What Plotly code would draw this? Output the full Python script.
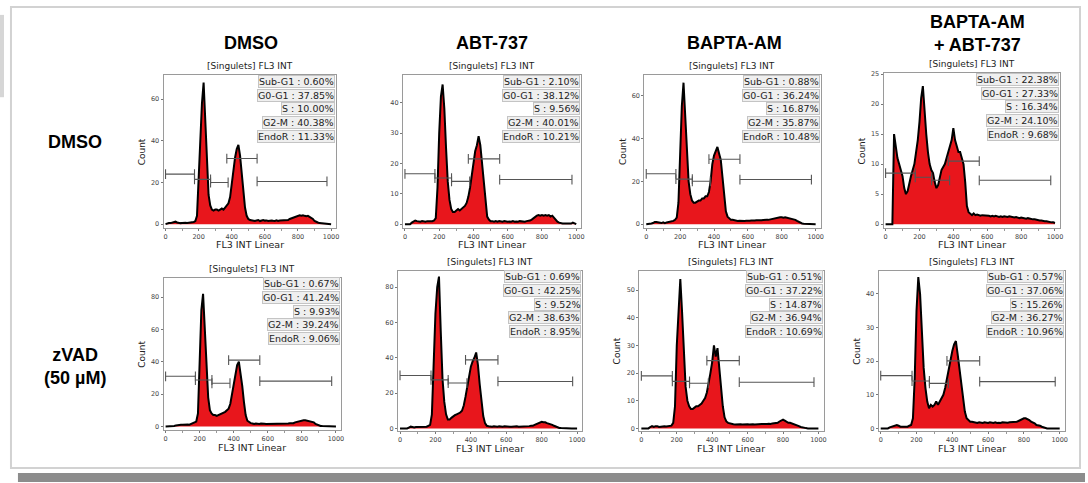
import plotly.graph_objects as go

W, H = 1088, 483

# histogram channels (bin starts, FL3 INT linear)
channel = list(range(0, 1001, 10))

col_labels = ["DMSO", "ABT-737", "BAPTA-AM", "BAPTA-AM<br>+ ABT-737"]
row_labels = ["DMSO", "zVAD<br>(50 µM)"]

# counts per bin (top row left->right, then bottom row)
dmso_dmso = [0, 0.3, 0.5, 0.5, 0.8, 1, 1.2, 0.8, 0.6, 0.5,
             0.6, 0.8, 0.7, 0.6, 0.7, 0.8, 0.9, 1, 1.5, 4,
             22, 42, 58, 68, 48, 26, 14, 9, 7, 6.5,
             7, 7, 6.5, 7, 7.5, 7, 8, 9, 10, 13,
             20, 27, 32, 36, 38, 33, 24, 14, 8, 4,
             2.5, 2, 1.8, 1.5, 1.5, 1.8, 2, 1.5, 1.8, 2,
             1.7, 1.8, 1.5, 1.7, 1.8, 1.6, 1.5, 1.8, 1.5, 1.7,
             1.8, 1.6, 1.8, 2, 2, 2.5, 2.8, 3.2, 3.5, 3.8,
             4, 4.2, 4, 4.3, 4, 3.8, 4, 3.5, 3, 2.5,
             1.5, 1, 0.8, 0.5, 0.4, 0.3, 0.2, 0.2, 0.1, 0,
             0]
abt_dmso = [0, 0, 0, 0, 0.5, 1, 1.2, 1, 0.8, 0.8,
            1, 0.8, 0.8, 1, 0.9, 1, 1, 1.2, 2, 12,
            30, 42, 46, 38, 25, 14, 8, 5, 4, 4,
            4.5, 5, 4.5, 5, 5.5, 6, 7, 9, 12, 16,
            21, 24, 26, 29, 26, 20, 12, 6, 2.5, 1.5,
            1, 1, 0.8, 1, 0.8, 1, 0.8, 0.8, 1, 0.8,
            0.8, 0.9, 0.8, 1, 0.8, 0.9, 0.8, 1, 0.9, 0.8,
            0.8, 1, 1, 1.2, 1.5, 2, 2.5, 2.8, 3, 2.8,
            3, 2.8, 3, 2.8, 3, 2.5, 2.8, 2, 1.5, 0.8,
            0.5, 0.3, 0.2, 0.2, 0.2, 0.2, 0.3, 0.2, 0.5, 0.2,
            0]
bapta_dmso = [0, 0, 0, 0.3, 0.5, 1, 1, 0.8, 0.5, 0.5,
              0.8, 0.5, 0.8, 1, 1, 1.5, 1.5, 2, 3, 10,
              35, 55, 66, 50, 32, 20, 14, 11, 10, 10,
              10.5, 11, 11, 12, 12, 13, 13, 15, 20, 28,
              32, 34, 36, 33, 30, 22, 12, 6, 3.5, 2.5,
              2, 2, 1.8, 1.5, 1.5, 1.6, 1.5, 1.6, 1.5, 1.6,
              1.5, 1.6, 1.7, 1.6, 1.7, 1.8, 1.7, 1.8, 1.8, 1.9,
              1.8, 2, 2, 2.2, 2.2, 2.5, 2.5, 2.8, 3, 3.2,
              3.2, 3, 3.2, 3, 3, 2.8, 2.5, 2.2, 2, 1.5,
              1, 0.5, 0.3, 0.2, 0.2, 0.1, 0.1, 0, 0, 0,
              0]
combo_dmso = [0, 0, 0, 0, 0, 15, 13, 11, 10, 9,
              8, 6, 5, 5.5, 7, 8, 9, 10, 12, 14,
              17, 21, 23, 18, 15, 12, 10, 9, 8.5, 7,
              6, 6.5, 8, 9, 9.5, 10, 11, 12, 13, 14,
              16, 14, 13, 12, 12, 11, 10, 7, 3, 2,
              1.8, 1.5, 1.8, 1.5, 1.6, 1.5, 1.4, 1.5, 1.5, 1.4,
              1.5, 1.4, 1.3, 1.4, 1.3, 1.4, 1.3, 1.2, 1.3, 1.2,
              1.3, 1.2, 1.2, 1.3, 1.2, 1.2, 1.1, 1.2, 1.1, 1,
              1.1, 1, 1, 0.9, 1, 0.9, 0.9, 0.8, 0.8, 0.7,
              0.7, 0.6, 0.6, 0.5, 0.5, 0.5, 0.4, 0.4, 0.3, 0.3,
              0.2]
dmso_zvad = [0, 0, 0, 0, 0, 0.3, 0.5, 0.8, 1, 1,
             1, 1.2, 1, 1.2, 1, 1.5, 1.5, 2, 3, 8,
             45, 72, 82, 58, 35, 18, 10, 8, 7, 7,
             6.5, 7, 7.5, 8, 8, 9, 10, 11, 14, 20,
             28, 34, 38, 40, 33, 25, 15, 7, 3.5, 2.5,
             2, 1.8, 1.5, 1.8, 1.5, 1.5, 1.8, 1.5, 1.6, 1.5,
             1.5, 1.6, 1.5, 1.8, 1.5, 1.6, 1.5, 1.5, 1.6, 1.8,
             1.8, 1.6, 1.8, 2, 2, 2, 2.5, 2.8, 3, 3.5,
             3.5, 3.8, 3.8, 3.5, 3.5, 3, 3, 2.5, 1.5, 1,
             0.5, 0.3, 0.2, 0.2, 0.1, 0.1, 0, 0, 0, 0,
             0]
abt_zvad = [0, 0, 0, 0, 0, 0.5, 1, 0.8, 0.5, 0.8,
            0.8, 0.7, 0.8, 1, 1, 1, 1.5, 2, 8, 35,
            65, 80, 86, 55, 28, 15, 8, 5, 5, 6,
            7, 7.5, 8, 8.5, 9, 10, 13, 18, 24, 30,
            35, 38, 40, 43, 36, 25, 14, 7, 3, 1.5,
            1.2, 1, 1, 1.2, 1, 1, 1.2, 1, 1, 1.2,
            1, 1.2, 1, 1, 1.2, 1, 1.2, 1, 1, 1.2,
            1, 1.2, 1.2, 1.3, 1.5, 1.5, 2, 2.5, 3, 3.5,
            3.8, 3.5, 3.5, 3, 2.8, 2.5, 2, 1.5, 1, 0.5,
            0.3, 0.2, 0.1, 0, 0, 0, 0, 0, 0, 0,
            0]
bapta_zvad = [0, 0, 0, 0, 0, 0.5, 0.8, 0.5, 0.8, 0.8,
              0.5, 0.6, 0.8, 0.8, 0.7, 0.8, 0.9, 1, 2, 8,
              30, 45, 54, 42, 28, 15, 10, 8, 7, 7,
              7.5, 8, 8, 8.5, 9, 10, 11, 13, 16, 20,
              24, 30, 26, 29, 22, 15, 8, 4, 2.5, 2,
              1.8, 1.5, 1.5, 1.4, 1.5, 1.4, 1.5, 1.4, 1.5, 1.4,
              1.5, 1.4, 1.5, 1.5, 1.4, 1.5, 1.6, 1.5, 1.6, 1.6,
              1.5, 1.6, 1.7, 1.6, 1.8, 1.8, 1.8, 2, 2.5, 3,
              3.2, 2.8, 2.5, 2, 2, 1.8, 1.5, 1.2, 1, 0.8,
              0.5, 0.3, 0.2, 0.1, 0, 0, 0, 0, 0, 0,
              0]
combo_zvad = [0, 0, 0, 0, 0, 0.3, 0.5, 0.5, 0.8, 1,
              0.8, 0.5, 0.5, 0.5, 0.5, 0.5, 0.8, 1, 3, 15,
              35, 45, 40, 28, 18, 12, 8, 6, 7, 6.5,
              7, 8, 7, 8, 9, 10, 12, 15, 18, 21,
              23, 25, 26, 22, 18, 13, 9, 5, 3, 2.5,
              2, 2, 1.8, 1.8, 1.6, 1.8, 1.7, 1.6, 1.8, 1.7,
              1.6, 1.8, 1.7, 1.6, 1.8, 1.6, 1.7, 1.6, 1.8, 1.7,
              1.8, 1.7, 1.8, 1.8, 2, 2, 2, 2.2, 2.5, 2.8,
              3, 3, 2.8, 2.5, 2, 1.8, 1.5, 1, 1, 0.8,
              0.5, 0.3, 0.2, 0, 0, 0, 0, 0, 0, 0,
              0]
histograms = [dmso_dmso, abt_dmso, bapta_dmso, combo_dmso,
              dmso_zvad, abt_zvad, bapta_zvad, combo_zvad]

# gate percentages per panel
gate_names = ["Sub-G1", "G0-G1", "S", "G2-M", "EndoR"]
sub_g1 = [0.60, 2.10, 0.88, 22.38, 0.67, 0.69, 0.51, 0.57]
g0_g1 = [37.85, 38.12, 36.24, 27.33, 41.24, 42.25, 37.22, 37.06]
s_phase = [10.00, 9.56, 16.87, 16.34, 9.93, 9.52, 14.87, 15.26]
g2_m = [40.38, 40.01, 35.87, 24.10, 39.24, 38.63, 36.94, 36.27]
endo_r = [11.33, 10.21, 10.48, 9.68, 9.06, 8.95, 10.69, 10.96]
gate_pcts = [sub_g1, g0_g1, s_phase, g2_m, endo_r]

# gate marker ranges (channel) and the count level each gate bar is drawn at
gate_bounds = [(0, 175), (175, 272), (272, 378), (370, 553), (553, 975)]
gate_levels = [
    [24, 21.5, 20, 31.5, 20.5],
    [16.6, 15.2, 14.1, 21.5, 14.7],
    [23.5, 21, 20, 30.3, 20.8],
    [8.5, 7.8, 7.3, 10.5, 7.3],
    [31, 28.7, 26.7, 41, 28],
    [30, 27.5, 25.7, 38.8, 26.6],
    [19, 17, 16.3, 24.5, 16.7],
    [15.7, 14.1, 13.4, 20.1, 13.9],
]

y_ranges = [(-1.9, 71.4), (-1.3, 49), (-1.85, 69.4), (-0.66, 25.1),
            (-2.5, 92), (-1.7, 89.3), (-1.1, 57), (-0.9, 46.9)]
y_dticks = [20, 10, 20, 5, 20, 20, 10, 10]
show_count = [True, False, True, True, True, False, True, True]

# panel boxes in pixels: left, right, top, bottom
boxes = [(164, 337, 73, 227), (404, 583, 73, 227), (646, 823, 73, 227), (886, 1063, 71, 227),
         (164, 342, 277, 431), (399, 584, 270, 432), (641, 826, 270, 432), (881, 1068, 270, 432)]

RED = "#e8161c"
FONT = "DejaVu Sans"


def px(x):
    return x / W


def py(y):
    return 1 - y / H


fig = go.Figure()
annotations = []

for i, counts in enumerate(histograms):
    n = "" if i == 0 else str(i + 1)
    xa, ya = "x" + n, "y" + n
    l, r, t, b = boxes[i]

    fig.add_trace(go.Scatter(
        x=channel, y=counts, mode="lines", fill="tozeroy",
        fillcolor=RED, line=dict(color="black", width=2),
        xaxis=xa, yaxis=ya, hoverinfo="skip", showlegend=False))

    gx, gy = [], []
    for (g0, g1), lev in zip(gate_bounds, gate_levels[i]):
        gx += [g0, g1, None]
        gy += [lev, lev, None]
    fig.add_trace(go.Scatter(
        x=gx, y=gy, mode="lines+markers",
        line=dict(color="#555", width=1.1),
        marker=dict(symbol="line-ns", size=7, line=dict(color="#555", width=1.1)),
        xaxis=xa, yaxis=ya, hoverinfo="skip", showlegend=False))

    axis_style = dict(showgrid=False, zeroline=False, showline=True, mirror=True,
                      linecolor="#9a9a9a", linewidth=1, ticks="outside", ticklen=2,
                      tickcolor="#777", tickfont=dict(family=FONT, size=6.5, color="#444"))
    fig.layout["xaxis" + n] = dict(domain=[px(l), px(r)], range=[-12, 1030], anchor=ya,
                                   tickvals=[0, 200, 400, 600, 800, 1000],
                                   minor=dict(ticks="outside", ticklen=2, dtick=100, tickcolor="#999"),
                                   **axis_style)
    fig.layout["yaxis" + n] = dict(domain=[py(b), py(t)], range=list(y_ranges[i]), anchor=xa,
                                   dtick=y_dticks[i], **axis_style)

    cx = (l + r) / 2
    annotations.append(dict(x=px(cx), y=py(t - 9), text="[Singulets] FL3 INT",
                            font=dict(family=FONT, size=9, color="#222")))
    annotations.append(dict(x=px(cx), y=py(b + 17), text="FL3 INT Linear",
                            font=dict(family=FONT, size=9.5, color="#222")))
    if show_count[i]:
        annotations.append(dict(x=px(l - 22), y=py((t + b) / 2), text="Count", textangle=-90,
                                font=dict(family=FONT, size=9, color="#222")))
    for k, name in enumerate(gate_names):
        annotations.append(dict(x=px(r - 1), y=py(t + 6 + 13.8 * k), xanchor="right",
                                text=f"{name} : {gate_pcts[k][i]:.2f}%",
                                font=dict(family=FONT, size=9.5, color="#222"),
                                bgcolor="#efefef", bordercolor="#c4c4c4", borderwidth=1, borderpad=0))

bold = dict(family="Liberation Sans, Arial", size=18, color="black")
col_x = [252, 493, 737, 980]
for lab, cx in zip(col_labels, col_x):
    annotations.append(dict(x=px(cx), y=py(40 if "<br>" not in lab else 31), text="<b>" + lab + "</b>",
                            font=bold))
row_y = [140, 367]
for lab, cy in zip(row_labels, row_y):
    annotations.append(dict(x=px(75), y=py(cy), text="<b>" + lab + "</b>", font=bold))

for a in annotations:
    a.update(xref="paper", yref="paper", showarrow=False)
    a.setdefault("xanchor", "center")
    a.setdefault("yanchor", "middle")

shapes = [
    dict(type="rect", xref="paper", yref="paper", x0=px(0), x1=px(4), y0=py(95), y1=py(12),
         fillcolor="#d6d6d6", line=dict(width=0), layer="below"),
    dict(type="rect", xref="paper", yref="paper", x0=px(18), x1=px(1088), y0=py(483), y1=py(474),
         fillcolor="#8c8c8c", line=dict(width=0), layer="below"),
    dict(type="rect", xref="paper", yref="paper", x0=px(11), x1=px(1083), y0=py(469), y1=py(4),
         fillcolor="rgba(0,0,0,0)", line=dict(color="#d2d2d2", width=2), layer="below"),
]

fig.update_layout(width=W, height=H, margin=dict(l=0, r=0, t=0, b=0),
                  paper_bgcolor="white", plot_bgcolor="white",
                  annotations=annotations, shapes=shapes, showlegend=False)

fig.write_html("out.html", config={"displayModeBar": False},
               post_script="document.body.style.margin='0';")
